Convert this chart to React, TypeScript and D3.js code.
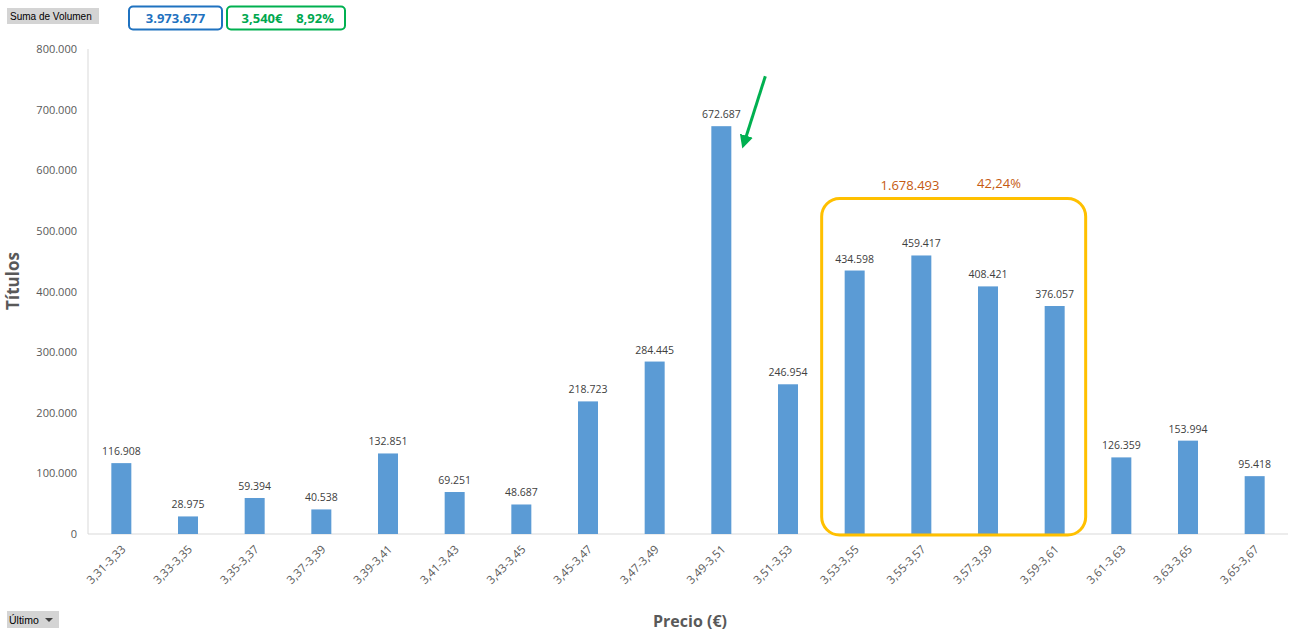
import React from "react";
import * as d3 from "d3";

const categories = ["3,31-3,33","3,33-3,35","3,35-3,37","3,37-3,39","3,39-3,41","3,41-3,43","3,43-3,45","3,45-3,47","3,47-3,49","3,49-3,51","3,51-3,53","3,53-3,55","3,55-3,57","3,57-3,59","3,59-3,61","3,61-3,63","3,63-3,65","3,65-3,67"];
const values = [116908,28975,59394,40538,132851,69251,48687,218723,284445,672687,246954,434598,459417,408421,376057,126359,153994,95418];
const yTicks = [0,100000,200000,300000,400000,500000,600000,700000,800000];
const highlighted = ["3,53-3,55","3,55-3,57","3,57-3,59","3,59-3,61"];
const arrowTarget = "3,49-3,51";

const fmt = (v: number) => v.toString().replace(/\B(?=(\d{3})+(?!\d))/g, ".");
const FONT = "'Open Sans', sans-serif";

export default function App() {
  const W = 1289, H = 636;
  const left = 88, right = 1288, top = 49, bottom = 534;
  const x = d3.scaleBand().domain(categories).range([left, right]).paddingInner(0.7).paddingOuter(0.35);
  const y = d3.scaleLinear().domain([0, 800000]).range([bottom, top]);
  const bw = x.bandwidth();
  const cx = (c: string) => (x(c) as number) + bw / 2;

  const hlLeft = (x(highlighted[0]) as number) - 23;
  const hlRight = (x(highlighted[highlighted.length - 1]) as number) + bw + 21;
  const hlTop = y(d3.max(highlighted.map(c => values[categories.indexOf(c)])) as number) - 57;
  const hlSum = d3.sum(highlighted.map(c => values[categories.indexOf(c)]));
  const total = d3.sum(values);

  const ax = cx(arrowTarget);
  const ay = y(values[categories.indexOf(arrowTarget)]);

  return (
    <svg width={W} height={H} style={{ position: "absolute", left: 0, top: 0, background: "#fff" }} fontFamily={FONT}>
      <defs>
        <marker id="ah" viewBox="0 0 10 10" refX="5" refY="5" markerWidth="4.5" markerHeight="4.5" orient="auto">
          <path d="M0,0 L10,5 L0,10 z" fill="#00b050" />
        </marker>
      </defs>
      {/* top controls */}
      <rect x={7} y={8} width={92} height={16} fill="#d4d4d4" />
      <text x={10} y={20} fontSize={10} fill="#000" fontFamily="'Liberation Sans', sans-serif">Suma de Volumen</text>
      <rect x={129} y={6.5} width={93} height={23} rx={4} fill="none" stroke="#1f72c0" strokeWidth={2} />
      <text x={175.5} y={23} fontSize={13} fontWeight="bold" fill="#1f72c0" textAnchor="middle">{fmt(total)}</text>
      <rect x={227} y={6.5} width={118} height={23} rx={4} fill="none" stroke="#00b050" strokeWidth={2} />
      <text x={262} y={23} fontSize={13} fontWeight="bold" fill="#00a84f" textAnchor="middle">3,540€</text>
      <text x={315} y={23} fontSize={13} fontWeight="bold" fill="#00a84f" textAnchor="middle">8,92%</text>

      {/* axes */}
      <line x1={left} x2={left} y1={top} y2={bottom} stroke="#d9d9d9" />
      <line x1={left} x2={right} y1={bottom} y2={bottom} stroke="#d9d9d9" />
      {yTicks.map(t => (
        <text key={t} x={77} y={y(t) + 4} fontSize={11} fill="#595959" textAnchor="end">{fmt(t)}</text>
      ))}
      {categories.map(c => (
        <text key={c} transform={`translate(${cx(c) + 5},${bottom + 16}) rotate(-45)`} fontSize={11.5} fill="#595959" textAnchor="end">{c}</text>
      ))}
      <text transform={`translate(19,281) rotate(-90)`} fontSize={17} fontWeight="bold" fill="#595959" textAnchor="middle">Títulos</text>
      <text x={690} y={627} fontSize={16} fontWeight="bold" fill="#595959" textAnchor="middle">Precio (€)</text>

      {/* bars */}
      {categories.map((c, i) => (
        <g key={c}>
          <rect x={x(c)} y={y(values[i])} width={bw} height={bottom - y(values[i])} fill="#5b9bd5" />
          <text x={cx(c)} y={y(values[i]) - 8} fontSize={10.5} fill="#404040" textAnchor="middle">{fmt(values[i])}</text>
        </g>
      ))}

      {/* highlight box */}
      <rect x={hlLeft} y={hlTop} width={hlRight - hlLeft} height={bottom + 1 - hlTop} rx={18} fill="none" stroke="#ffc000" strokeWidth={3} />
      <text x={910} y={hlTop - 8} fontSize={13} fill="#c55a11" textAnchor="middle">{fmt(hlSum)}</text>
      <text x={999} y={hlTop - 10} fontSize={13} fill="#c55a11" textAnchor="middle">{(hlSum / total * 100).toFixed(2).replace(".", ",")}%</text>

      {/* arrow */}
      <line x1={ax + 44} y1={ay - 50} x2={ax + 23} y2={ay + 16} stroke="#00b050" strokeWidth={3} markerEnd="url(#ah)" />

      {/* bottom control */}
      <rect x={7} y={611} width={52} height={17} fill="#d4d4d4" />
      <text x={9} y={624} fontSize={10.5} fill="#000" fontFamily="'Liberation Sans', sans-serif">Último</text>
      <path d="M45,618 L53,618 L49,622 z" fill="#404040" />
    </svg>
  );
}
